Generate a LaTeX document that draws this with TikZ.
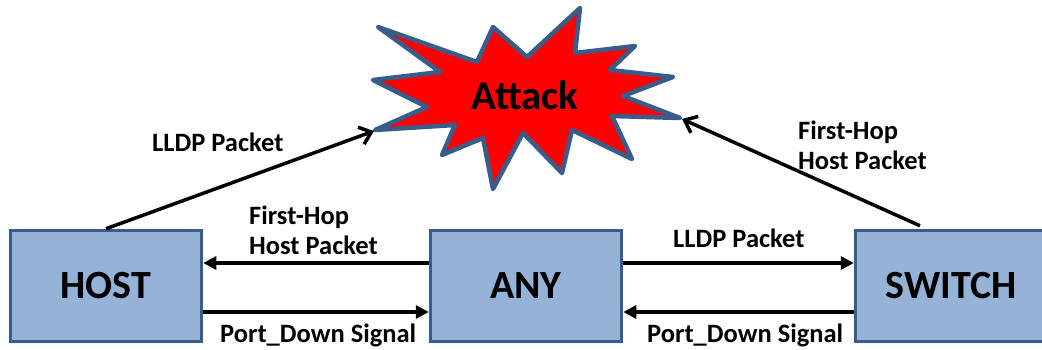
\documentclass[tikz,border=0pt]{standalone}
\usepackage{fontspec}
\setmainfont{Carlito}
\usepackage{tikz}
\usetikzlibrary{
  arrows.meta,%
  positioning,%
  calc
}
\definecolor{boxfill}{RGB}{149,179,215}
\definecolor{boxline}{RGB}{56,93,138}
\tikzset{>={Triangle[length=13pt,width=13pt]}}
\tikzset{
  devbox/.style={draw=boxline, fill=boxfill, line width=3.5pt,
    minimum width=191pt, minimum height=111pt,
    font=\fontsize{40}{46}\selectfont\bfseries},
  lbl/.style={inner sep=0pt, font=\fontsize{26.5}{30}\selectfont\bfseries},
  msg/.style={->, line width=3.5pt},
  hit/.style={-{Straight Barb[length=11pt,width=18pt,line width=3.5pt]}, line width=3.5pt},
  burst/.style={draw=boxline, fill=red, line width=4.5pt, line join=round}
}

\begin{document}
\begin{tikzpicture}[x=1pt,y=-1pt]
  \clip (0,0) rectangle (1042,350);
  % the three boxes
  \node[devbox] (host) at (106,286) {HOST};
  \node[devbox] (any) at (526,286) {ANY};
  \node[devbox] (switch) at (951,286) {SWITCH};
  % the explosion
  \draw[burst] (378,27) -- (477,62) -- (493,27) -- (527,57) -- (580,8)
    -- (575,53) -- (635,46) -- (610,70) -- (673,77) -- (623,96)
    -- (680,118) -- (612,116) -- (632,159) -- (572,130) -- (562,173)
    -- (523,133) -- (493,189) -- (483,138) -- (442,155) -- (455,125)
    -- (375,130) -- (427,107) -- (373,80) -- (440,72) -- cycle;
  \node[font=\fontsize{41}{46}\selectfont\bfseries] (attack) at (525,95) {Attack};
  \coordinate (burstL) at (374,131);
  \coordinate (burstR) at (682,119);
  % messages between the boxes
  \draw[msg] ([yshift=23pt]any.west) -- ([yshift=23pt]host.east);
  \draw[msg] ([yshift=-26pt]host.east) -- ([yshift=-26pt]any.west);
  \draw[msg] ([yshift=23pt]any.east) -- ([yshift=23pt]switch.west);
  \draw[msg] ([yshift=-26pt]switch.west) -- ([yshift=-26pt]any.east);
  \draw[hit] (host.north) -- (burstL);
  \draw[hit] ([xshift=-31pt,yshift=3pt]switch.north) -- (burstR);
  % labels
  \node[lbl, anchor=base west] (l1) at (152,152) {LLDP Packet};
  \node[lbl, anchor=west, align=left] (l2) at (249,230) {First-Hop\\Host Packet};
  \node[lbl, anchor=base west] (l3) at (220,342) {Port\_Down Signal};
  \node[lbl, anchor=base west] (l4) at (673,247) {LLDP Packet};
  \node[lbl, anchor=base west] (l5) at (647,342) {Port\_Down Signal};
  \node[lbl, anchor=west, align=left] (l6) at (798,145) {First-Hop\\Host Packet};
\end{tikzpicture}
\end{document}
